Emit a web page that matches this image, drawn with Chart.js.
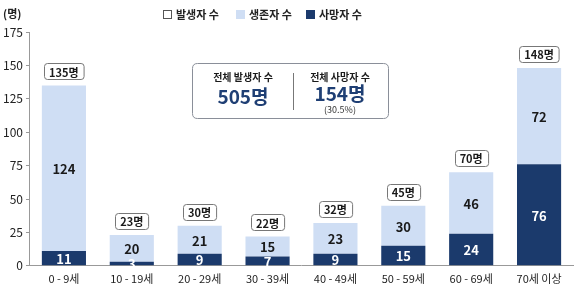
<!DOCTYPE html>
<html>
<head>
<meta charset="utf-8">
<script src="https://cdn.jsdelivr.net/npm/chart.js@4.4.1/dist/chart.umd.min.js"></script>
<style>
  html, body { margin: 0; padding: 0; background: #fff; }
  #wrap { width: 577px; height: 291px; position: relative; }
</style>
</head>
<body>
<div id="wrap"><canvas id="chart" width="577" height="291"></canvas></div>
<script>
const ageGroups = ['0 - 9세', '10 - 19세', '20 - 29세', '30 - 39세', '40 - 49세', '50 - 59세', '60 - 69세', '70세 이상'];
const deaths = [11, 3, 9, 7, 9, 15, 24, 76];
const survivors = [124, 20, 21, 15, 23, 30, 46, 72];
const yTicks = [0, 25, 50, 75, 100, 125, 150, 175];
const legendNames = ['발생자 수', '생존자 수', '사망자 수'];

const FONT = "'Noto Sans CJK KR', 'Noto Sans', sans-serif";
const DARK = '#1b3a6c';
const LIGHT = '#cfdef4';

const totals = deaths.map((d, i) => d + survivors[i]);
const totalCases = totals.reduce((a, b) => a + b, 0);
const totalDeaths = deaths.reduce((a, b) => a + b, 0);

function roundRect(ctx, x, y, w, h, r) {
  ctx.beginPath();
  ctx.moveTo(x + r, y);
  ctx.lineTo(x + w - r, y);
  ctx.quadraticCurveTo(x + w, y, x + w, y + r);
  ctx.lineTo(x + w, y + h - r);
  ctx.quadraticCurveTo(x + w, y + h, x + w - r, y + h);
  ctx.lineTo(x + r, y + h);
  ctx.quadraticCurveTo(x, y + h, x, y + h - r);
  ctx.lineTo(x, y + r);
  ctx.quadraticCurveTo(x, y, x + r, y);
  ctx.closePath();
}

// === labels inside bars, total boxes, summary box, legend ===
const overlay = {
  id: 'overlay',
  afterDatasetsDraw(chart) {
    const ctx = chart.ctx;
    const y = chart.scales.y;
    ctx.save();
    ctx.textAlign = 'center';
    ctx.textBaseline = 'middle';

    // segment values
    chart.data.datasets.forEach((ds, di) => {
      const meta = chart.getDatasetMeta(di);
      meta.data.forEach((bar, i) => {
        const mid = (bar.y + bar.base) / 2;
        ctx.font = `bold 13px ${FONT}`;
        ctx.fillStyle = di === 0 ? '#ffffff' : '#1a1a1a';
        ctx.fillText(ds.data[i], bar.x, mid + 1);
      });
    });

    // total boxes
    chart.getDatasetMeta(1).data.forEach((bar, i) => {
      const top = y.getPixelForValue(totals[i]);
      const txt = totals[i] + '명';
      ctx.font = `bold 11px ${FONT}`;
      const w = ctx.measureText(txt).width + 10;
      const h = 16;
      const cy = top - 14;
      roundRect(ctx, Math.round(bar.x - w / 2) + 0.5, Math.round(cy - h / 2) + 0.5, w, h, 3);
      ctx.fillStyle = '#fff';
      ctx.fill();
      ctx.strokeStyle = '#777';
      ctx.lineWidth = 1;
      ctx.stroke();
      ctx.fillStyle = '#1a1a1a';
      ctx.fillText(txt, bar.x, cy + 1);
    });

    // summary box
    roundRect(ctx, 192.5, 63.5, 196, 55, 5);
    ctx.strokeStyle = '#8a8f99';
    ctx.lineWidth = 1;
    ctx.stroke();
    ctx.beginPath();
    ctx.moveTo(293.5, 73);
    ctx.lineTo(293.5, 110);
    ctx.strokeStyle = '#777';
    ctx.stroke();

    ctx.fillStyle = '#1a1a1a';
    ctx.font = `bold 10px ${FONT}`;
    ctx.fillText('전체 발생자 수', 243, 77);
    ctx.fillText('전체 사망자 수', 340, 77);
    ctx.fillStyle = '#1f3f74';
    ctx.font = `bold 19px ${FONT}`;
    ctx.fillText(totalCases + '명', 243, 97);
    ctx.fillText(totalDeaths + '명', 340, 94);
    ctx.fillStyle = '#333';
    ctx.font = `9px ${FONT}`;
    ctx.fillText('(' + (totalDeaths / totalCases * 100).toFixed(1) + '%)', 340, 110);

    // legend
    const boxX = [163, 236, 306];
    const boxFill = ['#fff', LIGHT, DARK];
    ctx.textAlign = 'left';
    ctx.font = `bold 11px ${FONT}`;
    legendNames.forEach((name, i) => {
      ctx.fillStyle = boxFill[i];
      ctx.fillRect(boxX[i], 10, 9, 9);
      if (i === 0) {
        ctx.strokeStyle = '#555';
        ctx.strokeRect(boxX[i] + 0.5, 10.5, 8, 8);
      }
      ctx.fillStyle = '#222';
      ctx.fillText(name, boxX[i] + 13, 15);
    });

    // unit label
    ctx.fillStyle = '#222';
    ctx.fillText('(명)', 3, 14);
    ctx.restore();
  }
};

new Chart(document.getElementById('chart'), {
  type: 'bar',
  data: {
    labels: ageGroups,
    datasets: [
      { label: legendNames[2], data: deaths, backgroundColor: DARK, categoryPercentage: 0.65, barPercentage: 1 },
      { label: legendNames[1], data: survivors, backgroundColor: LIGHT, categoryPercentage: 0.65, barPercentage: 1 }
    ]
  },
  options: {
    responsive: false,
    animation: false,
    layout: { padding: { left: 0, right: 4, top: 32, bottom: 0 } },
    plugins: {
      tooltip: { enabled: false },
      legend: { display: false }
    },
    scales: {
      x: {
        stacked: true,
        grid: { display: false, drawTicks: false },
        border: { color: '#999' },
        ticks: { font: { family: FONT, size: 11 }, color: '#222', padding: 6 }
      },
      y: {
        stacked: true,
        min: 0,
        max: 175,
        afterBuildTicks: axis => { axis.ticks = yTicks.map(v => ({ value: v })); },
        grid: { drawOnChartArea: false, drawTicks: true, tickLength: 4, color: '#999' },
        border: { color: '#999' },
        ticks: { font: { family: FONT, size: 12 }, color: '#222', padding: 3 }
      }
    }
  },
  plugins: [overlay]
});
</script>
</body>
</html>
